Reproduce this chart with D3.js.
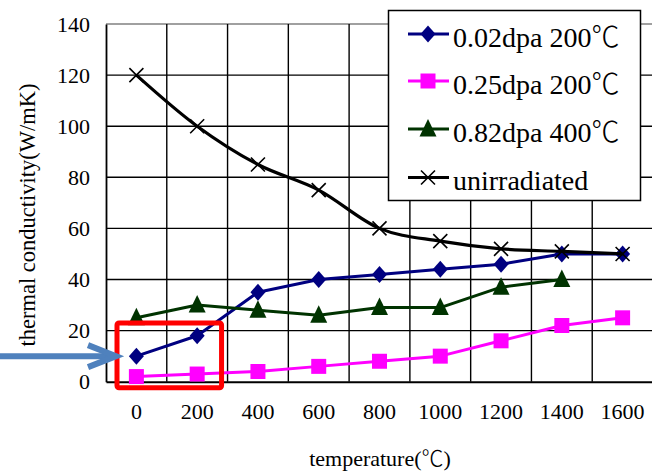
<!DOCTYPE html>
<html>
<head>
<meta charset="utf-8">
<script src="https://cdn.jsdelivr.net/npm/d3@7"></script>
<style>
  html, body { margin: 0; padding: 0; background: #fff; }
  svg { display: block; }
  svg text { font-family: "Liberation Serif", Tinos, "Times New Roman", Times, "Nimbus Roman", "DejaVu Serif", "Noto Serif", serif; fill: #000; }
  svg tspan.cjk { font-family: "Noto Sans CJK JP", "Noto Sans CJK SC", sans-serif; font-weight: 300; }
</style>
</head>
<body>
<svg id="chart" width="652" height="472"></svg>
<script>
// Thermal conductivity vs. annealing temperature
const temperatures = ["0", "200", "400", "600", "800", "1000", "1200", "1400", "1600"];
const yTicks = [0, 20, 40, 60, 80, 100, 120, 140];

const dpa002 = [10, 18, 35, 40, 42, 44, 46, 50, 50];
const dpa025 = [2, 3, 4, 6, 8, 10, 16, 22, 25];
const dpa082 = [25, 30, 28, 26, 29, 29, 37, 40];
const unirradiated = [120, 100, 85, 75, 60, 55, 52, 51, 50];

const seriesNames = ["0.02dpa 200℃", "0.25dpa 200℃", "0.82dpa 400℃", "unirradiated"];

const series = [
  { name: seriesNames[0], values: dpa002, color: "#000080", marker: "diamond", smooth: false },
  { name: seriesNames[1], values: dpa025, color: "#ff00ff", marker: "square", smooth: false },
  { name: seriesNames[2], values: dpa082, color: "#003300", marker: "triangle", smooth: false },
  { name: seriesNames[3], values: unirradiated, color: "#000000", marker: "cross", smooth: true }
];

// write a label, setting the ℃ sign in a CJK face
function setLabel(textSel, str) {
  str.split(/(℃)/).filter(p => p.length).forEach(part => {
    const t = textSel.append("tspan").text(part);
    if (part === "℃") t.attr("class", "cjk");
  });
}

const svg = d3.select("#chart");
const plot = { left: 106, right: 653, top: 24, bottom: 381.7 };

const x = d3.scaleBand().domain(temperatures).range([plot.left, plot.right]).padding(0);
const y = d3.scaleLinear().domain([0, 140]).range([plot.bottom, plot.top]);
const cx = t => x(t) + x.bandwidth() / 2;

// grid
const grid = svg.append("g");
grid.selectAll("line.h").data(yTicks.filter(v => v > 0)).join("line")
  .attr("x1", plot.left).attr("x2", plot.right)
  .attr("y1", d => y(d)).attr("y2", d => y(d))
  .attr("stroke", d => d === 140 ? "#808080" : "#000").attr("stroke-width", 1.4);
grid.selectAll("line.v").data(temperatures.slice(1)).join("line")
  .attr("x1", d => x(d)).attr("x2", d => x(d))
  .attr("y1", plot.top).attr("y2", plot.bottom)
  .attr("stroke", "#000").attr("stroke-width", 1.4);

// axes
const yAxis = d3.axisLeft(y).tickValues(yTicks).tickSize(0).tickPadding(16);
const gy = svg.append("g").attr("transform", `translate(${plot.left},0)`).call(yAxis);
gy.attr("font-family", null);
gy.select(".domain").attr("stroke", "#000").attr("stroke-width", 1.8);
gy.selectAll("text").attr("font-size", 22);

const xAxis = d3.axisBottom(x).tickSize(0).tickPadding(22);
const gx = svg.append("g").attr("transform", `translate(0,${plot.bottom})`).call(xAxis);
gx.attr("font-family", null);
gx.select(".domain").attr("stroke", "#000").attr("stroke-width", 2);
gx.selectAll("text").attr("font-size", 22);

// axis titles
svg.append("text")
  .attr("transform", `translate(35,${(83 + 347) / 2}) rotate(-90)`)
  .attr("text-anchor", "middle").attr("font-size", 22.5)
  .text("thermal conductivity(W/mK)");
const xTitle = svg.append("text")
  .attr("x", 380).attr("y", 466)
  .attr("text-anchor", "middle").attr("font-size", 22);
setLabel(xTitle, "temperature(℃)");

// markers
function markerPath(type) {
  switch (type) {
    case "diamond": return "M0,-8.5L7.5,0L0,8.5L-7.5,0Z";
    case "square": return "M-7.5,-7.5H7.5V7.5H-7.5Z";
    case "triangle": return "M0,-10L8.5,7.5L-8.5,7.5Z";
    case "cross": return "M-7,-7L7,7M-7,7L7,-7";
  }
}
function drawMarker(g, type, color) {
  if (type === "cross") {
    g.append("path").attr("d", markerPath(type)).attr("stroke", color).attr("stroke-width", 1.6).attr("fill", "none");
  } else {
    g.append("path").attr("d", markerPath(type)).attr("fill", color).attr("stroke", "none");
  }
}

// series lines and markers
series.forEach(s => {
  const pts = s.values.map((v, i) => [cx(temperatures[i]), y(v)]);
  const line = d3.line().curve(s.smooth ? d3.curveCardinal.tension(0) : d3.curveLinear);
  svg.append("path").attr("d", line(pts))
    .attr("fill", "none").attr("stroke", s.color)
    .attr("stroke-width", s.smooth ? 3.2 : 3).attr("stroke-linejoin", "round");
  pts.forEach(p => {
    const g = svg.append("g").attr("transform", `translate(${p[0]},${p[1]})`);
    drawMarker(g, s.marker, s.color);
  });
});

// legend
const legend = svg.append("g");
legend.append("rect").attr("x", 388.5).attr("y", 10.5).attr("width", 252).attr("height", 190)
  .attr("fill", "#fff").attr("stroke", "#000").attr("stroke-width", 1.5);
const rowY = [34, 81, 129, 177.5];
series.forEach((s, i) => {
  const g = legend.append("g").attr("transform", `translate(0,${rowY[i]})`);
  g.append("line").attr("x1", 408).attr("x2", 449).attr("y1", 0).attr("y2", 0)
    .attr("stroke", s.color).attr("stroke-width", 3);
  const m = g.append("g").attr("transform", "translate(428,0)");
  drawMarker(m, s.marker, s.color);
  const t = g.append("text").attr("x", 453).attr("y", 12.5).attr("font-size", 28);
  setLabel(t, s.name);
});

// highlight box around the low-temperature points
const boxX0 = x(temperatures[0]) + 11;
const boxX1 = x(temperatures[1]) + x.bandwidth() - 6;
const boxY0 = y(23);
const boxY1 = y(0) + 6;
svg.append("rect")
  .attr("x", boxX0).attr("y", boxY0)
  .attr("width", boxX1 - boxX0).attr("height", boxY1 - boxY0)
  .attr("rx", 2).attr("fill", "none").attr("stroke", "#ff0000").attr("stroke-width", 5);

// pointer arrow to the 0.02dpa value at 0℃
const arrowY = y(dpa002[0]);
const tipX = boxX0 - 1;
const arrow = svg.append("g").attr("stroke", "#4f81bd").attr("stroke-width", 6).attr("fill", "none");
arrow.append("line").attr("x1", 0).attr("x2", tipX - 3).attr("y1", arrowY).attr("y2", arrowY);
arrow.append("path")
  .attr("d", `M${tipX - 28},${arrowY - 11}L${tipX},${arrowY}L${tipX - 28},${arrowY + 11}`)
  .attr("stroke-linejoin", "miter");
</script>
</body>
</html>
